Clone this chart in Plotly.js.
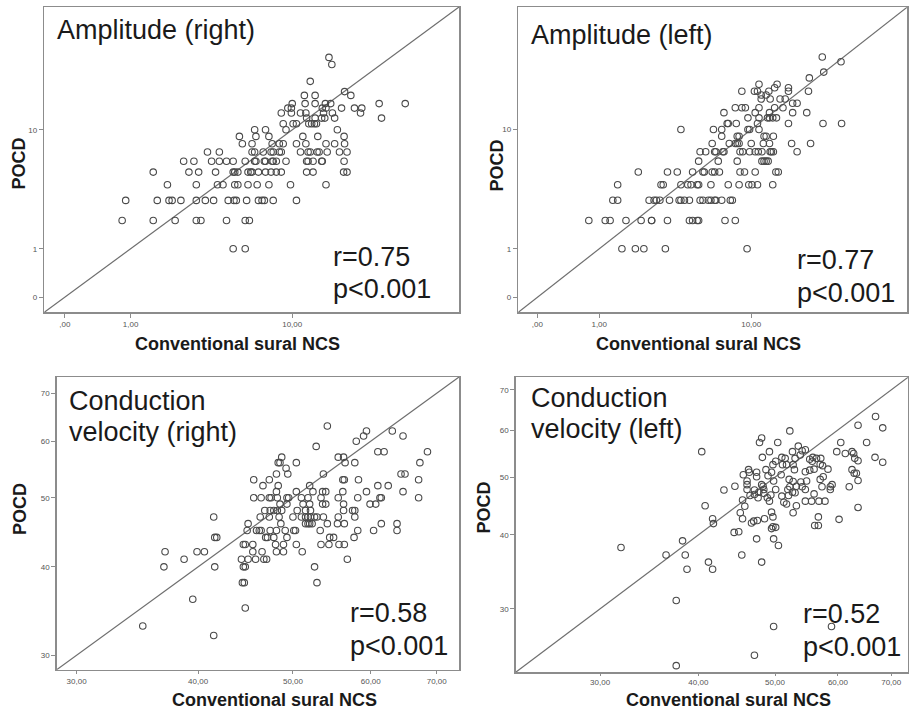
<!DOCTYPE html>
<html><head><meta charset="utf-8">
<script src="https://cdn.plot.ly/plotly-3.0.1.min.js"></script>
<style>html,body{margin:0;padding:0;background:#fff}#chart{width:909px;height:710px}</style>
</head><body><div id="chart"></div>
<script>
// ---- Amplitude (right) ----
const ampRightX = [15.2,15.7,12.3,18.1,11.5,13.0,19.4,10.0,11.6,13.0,14.6,15.5,26.5,35.2,9.5,9.9,14.1,14.7,17.5,20.2,21.9,8.8,9.9,11.0,11.7,14.3,15.8,21.6,11.8,13.0,14.0,14.5,16.2,27.2,9.0,10.1,10.5,12.1,12.5,12.9,13.2,6.4,7.3,9.3,16.7,5.3,6.5,7.6,11.3,13.4,18.0,5.5,6.2,7.9,8.6,9.0,10.5,11.7,14.7,16.2,18.1,3.5,4.1,6.2,6.4,7.1,7.8,8.0,8.6,8.8,11.0,12.0,12.3,13.3,13.6,14.9,17.1,18.6,2.5,2.9,3.7,4.1,4.5,4.9,5.7,6.4,6.5,7.2,7.3,7.9,8.0,8.3,9.3,11.8,12.0,12.7,14.0,14.1,18.0,1.54,2.7,3.1,3.9,4.9,5.0,5.2,5.9,6.1,6.2,6.7,7.3,7.8,8.3,8.8,11.8,12.7,17.9,18.6,1.95,3.0,4.0,4.3,5.0,5.2,5.9,6.6,7.6,9.8,14.7,0.9,1.65,2.0,2.1,2.4,3.0,3.4,3.8,4.6,4.95,5.1,5.8,6.7,7.0,7.2,8.0,10.5,0.83,1.54,2.2,3.0,3.2,4.5,5.7,6.0,4.9,5.7];
const ampRightY = [30,27,21,18,17,17,17,15,15,15,15,15,15,15,14,14,14,14,14,14,14,13,13,13,13,13,13,13,12,12,12,12,12,12,11,11,11,11,11,11,11,10,10,10,10,9,9,9,9,9,9,8,8,8,8,8,8,8,8,8,8,7,7,7,7,7,7,7,7,7,7,7,7,7,7,7,7,7,6,6,6,6,6,6,6,6,6,6,6,6,6,6,6,6,6,6,6,6,6,5,5,5,5,5,5,5,5,5,5,5,5,5,5,5,5,5,5,5,4,4,4,4,4,4,4,4,4,4,4,3,3,3,3,3,3,3,3,3,3,3,3,3,3,3,3,3,2,2,2,2,2,2,2,2,1,1];

// ---- Amplitude (left) ----
const ampLeftX = [23.4,29.1,23.8,20.1,11.0,13.7,13.3,15.7,8.9,10.4,10.8,12.4,15.7,19.9,11.3,12.0,11.3,12.6,14.2,15.1,16.5,17.4,8.2,8.9,9.3,11.0,13.3,14.7,7.1,10.5,12.5,16.5,19.5,9.6,11.0,12.2,12.5,13.0,13.6,7.4,7.5,8.3,10.8,15.7,23.6,29.3,4.0,6.2,6.9,9.6,9.8,11.0,6.9,8.4,8.6,11.7,12.0,13.1,6.1,7.6,8.2,8.4,8.6,10.0,11.6,12.5,16.3,20.4,5.2,5.6,6.3,6.4,7.0,7.1,8.7,9.0,9.8,10.5,10.9,11.4,12.6,12.8,13.1,17.4,5.1,6.6,8.4,11.4,11.7,12.0,12.3,2.1,3.3,3.8,4.7,5.4,5.5,6.1,6.3,6.7,8.7,9.2,10.5,13.5,13.9,1.46,3.0,3.1,4.0,4.4,4.6,5.0,5.1,6.0,7.5,8.6,9.7,10.1,10.8,13.0,1.33,1.46,2.5,2.7,2.8,2.95,3.4,3.9,4.0,4.2,4.5,5.2,5.4,5.8,6.0,6.3,6.4,6.9,7.7,7.9,0.78,1.14,1.26,1.7,2.2,2.6,2.6,3.3,4.5,4.7,5.0,5.1,7.2,8.2,1.58,2.0,2.3,3.2,9.5];
const ampLeftY = [30,28,24,22,20,20,19,19,18,18,18,18,18,18,17,17,16,16,16,16,15,15,14,14,14,14,14,14,13,13,13,13,13,12,12,12,12,12,12,11,11,11,11,11,11,11,10,10,10,10,10,10,9,9,9,9,9,9,8,8,8,8,8,8,8,8,8,8,7,7,7,7,7,7,7,7,7,7,7,7,7,7,7,7,6,6,6,6,6,6,6,5,5,5,5,5,5,5,5,5,5,5,5,5,5,4,4,4,4,4,4,4,4,4,4,4,4,4,4,4,3,3,3,3,3,3,3,3,3,3,3,3,3,3,3,3,3,3,3,3,2,2,2,2,2,2,2,2,2,2,2,2,2,2,1,1,1,1,1];

// ---- Conduction velocity (right) ----
const cvRightX = [54.2,59.4,63.1,59.0,64.7,58.0,52.8,61.0,61.9,68.5,48.7,55.6,56.3,48.3,48.5,50.4,56.5,57.8,67.3,49.2,48.1,49.4,53.7,64.4,65.0,45.6,47.3,56.2,56.4,58.3,67.1,46.6,48.3,52.0,61.0,62.5,48.1,50.4,52.4,53.6,54.0,56.2,59.4,64.7,45.6,46.4,47.3,47.5,48.2,49.3,49.5,51.0,51.8,53.4,55.6,58.2,61.3,61.5,67.1,48.5,49.3,51.2,52.0,53.6,54.0,56.3,59.9,60.7,46.8,47.4,47.8,48.2,48.7,50.5,51.5,52.1,56.3,57.5,57.8,41.5,46.3,47.3,48.4,50.0,51.0,51.5,51.8,52.1,52.6,52.9,53.7,55.6,57.8,45.0,48.6,51.5,51.8,52.0,52.3,54.2,55.5,56.4,61.5,63.8,44.9,45.9,46.2,46.4,47.4,48.1,49.1,50.1,50.3,53.3,58.2,60.4,63.8,41.6,41.8,46.9,47.1,47.8,49.3,54.5,55.0,57.7,44.5,44.7,45.5,48.0,48.9,50.4,53.4,54.4,55.7,56.4,37.0,39.9,40.6,45.5,46.5,48.1,48.9,51.1,38.7,44.3,45.0,45.8,46.7,47.0,56.8,36.9,41.6,44.5,44.7,52.6,44.4,44.6,52.9,39.5,44.7,35.1,41.5];
const cvRightY = [63,62,62,61,61,60,59,58,58,58,57,57,57,56,56,56,56,56,56,55,54,54,54,54,54,53,53,53,53,53,53,52,52,52,52,52,51,51,51,51,51,51,51,51,50,50,50,50,50,50,50,50,50,50,50,50,50,50,50,49,49,49,49,49,49,49,49,49,48,48,48,48,48,48,48,48,48,48,48,47,47,47,47,47,47,47,47,47,47,47,47,47,47,46,46,46,46,46,46,46,46,46,46,46,45,45,45,45,45,45,45,45,45,45,45,45,45,44,44,44,44,44,44,44,44,44,43,43,43,43,43,43,43,43,43,43,42,42,42,42,42,42,42,42,41,41,41,41,41,41,41,40,40,40,40,40,38,38,38,36,35,33,32];

// ---- Conduction velocity (left) ----
const cvLeftX = [66.9,63.6,68.3,52.2,48.1,47.8,50.4,60.5,65.2,40.4,49.2,53.5,52.6,54.1,54.6,53.8,59.8,61.3,62.5,62.8,66.8,68.3,63.6,63.0,51.0,48.2,50.1,51.5,53.0,51.7,52.7,51.1,55.3,55.8,56.4,57.1,55.7,57.4,57.0,58.3,56.0,55.3,54.6,52.9,49.7,48.7,46.3,46.4,47.4,45.6,47.4,49.0,49.5,49.8,50.9,62.5,62.9,63.3,63.6,62.0,63.6,60.2,56.7,56.1,56.7,56.0,57.3,58.7,59.0,58.7,57.0,57.5,54.8,53.9,53.2,54.1,54.6,54.6,55.6,56.8,57.8,52.7,52.2,52.6,52.1,51.9,53.0,52.0,53.2,52.7,51.0,51.3,51.7,50.1,49.4,49.2,48.9,48.4,48.1,48.3,47.7,47.6,48.4,47.1,47.1,46.5,46.1,46.1,46.1,45.5,45.8,45.2,45.5,45.0,45.4,47.0,47.5,48.5,46.7,49.5,49.7,49.7,49.5,50.1,49.8,50.5,47.4,48.1,44.4,43.1,44.5,40.8,41.7,41.8,38.2,36.4,38.5,38.7,41.2,41.7,31.9,37.5,49.8,58.9,47.1,37.5];
const cvLeftY = [63.2,61.1,60.5,59.8,58.2,57.2,57.2,57.2,57.2,55.2,55.2,56.4,55.2,55.4,55.6,54.5,55.2,54.8,55.2,54.8,54.0,53.0,53.3,53.8,54.0,54.0,53.2,53.8,53.8,52.5,52.5,52.5,53.6,54.0,53.8,53.8,53.2,52.3,52.6,51.6,51.6,51.4,51.1,51.5,52.5,51.5,51.5,51.0,51.0,50.5,50.1,50.3,51.0,49.3,50.5,51.5,50.8,50.8,49.4,48.2,44.5,42.5,41.5,41.5,42.9,46.9,48.2,48.2,48.6,47.7,49.6,50.1,49.3,49.1,48.3,48.2,47.7,45.6,45.6,45.6,45.6,49.2,48.2,47.2,49.6,47.7,47.1,46.6,44.8,43.6,46.5,45.4,45.1,47.7,46.7,45.6,46.2,47.7,48.6,48.3,47.2,46.2,47.0,46.8,47.6,46.6,49.3,48.6,47.7,45.8,44.7,43.6,42.6,40.5,37.0,42.2,42.3,42.6,41.9,43.7,42.9,41.3,41.0,41.2,39.4,38.4,39.4,36.0,40.4,47.6,48.3,44.8,42.6,41.8,39.1,37.0,37.0,35.0,36.0,35.0,38.1,31.0,28.0,28.0,25.0,24.0];

// tick labels
const ampXTickVals = [0, 1, 10];
const ampXTickText = [",00", "1,00", "10,00"];
const ampYTickVals = [0, 1, 10];
const ampYTickText = ["0", "1", "10"];
const cvXTickVals = [30, 40, 50, 60, 70];
const cvXTickText = ["30,00", "40,00", "50,00", "60,00", "70,00"];
const cvYTickVals = [30, 40, 50, 60, 70];
const cvYTickText = ["30", "40", "50", "60", "70"];

// all axes are log10(value + 1)
const shift = a => a.map(v => v + 1);

const W = 909, H = 710;
const panels = [
  {x: ampRightX, y: ampRightY, xd: [44.3, 459], yd: [7, 312.3], range: [-0.094, 1.805],
   xt: [ampXTickVals, ampXTickText], yt: [ampYTickVals, ampYTickText], tl: 4},
  {x: ampLeftX, y: ampLeftY, xd: [518.3, 907], yd: [7.3, 312.3], range: [-0.093, 1.800],
   xt: [ampXTickVals, ampXTickText], yt: [ampYTickVals, ampYTickText], tl: 4},
  {x: cvRightX, y: cvRightY, xd: [56.7, 459], yd: [377, 669.7], range: [1.4715, 1.8735],
   xt: [cvXTickVals, cvXTickText], yt: [cvYTickVals, cvYTickText], tl: 3},
  {x: cvLeftX, y: cvLeftY, xd: [515.7, 908], yd: [377.3, 672.3], range: [1.387, 1.872],
   xt: [cvXTickVals, cvXTickText], yt: [cvYTickVals, cvYTickText], tl: 2}
];

const data = [];
const layout = {
  width: W, height: H, margin: {l: 0, r: 0, t: 0, b: 0},
  paper_bgcolor: "#fff", plot_bgcolor: "#fff", showlegend: false,
  font: {family: "Liberation Sans, Arial, sans-serif", color: "#222"},
  annotations: []
};

panels.forEach((p, i) => {
  const n = i === 0 ? "" : String(i + 1);
  const xa = "x" + n, ya = "y" + n;
  const lo = Math.pow(10, p.range[0]), hi = Math.pow(10, p.range[1]);
  data.push({x: [lo, hi], y: [lo, hi], xaxis: xa, yaxis: ya, mode: "lines",
             line: {color: "#6e6e6e", width: 1.2}, hoverinfo: "skip"});
  data.push({x: shift(p.x), y: shift(p.y), xaxis: xa, yaxis: ya, mode: "markers",
             marker: {symbol: "circle-open", size: 6.5, color: "#4a4a4a", line: {width: 1.1, color: "#4a4a4a"}}});
  const common = {type: "log", showgrid: false, zeroline: false, showline: true, mirror: true,
    linecolor: "#8c8c8c", linewidth: 1.5, ticks: "outside", ticklen: 4, tickcolor: "#8c8c8c",
    tickwidth: 1, tickfont: {size: 8, color: "#555"}, tickmode: "array", fixedrange: true};
  layout["xaxis" + n] = Object.assign({}, common, {
    domain: [p.xd[0] / W, p.xd[1] / W], range: p.range, anchor: ya, ticklen: p.tl,
    tickvals: shift(p.xt[0]), ticktext: p.xt[1]});
  layout["yaxis" + n] = Object.assign({}, common, {
    domain: [1 - p.yd[1] / H, 1 - p.yd[0] / H], range: p.range, anchor: xa,
    tickvals: shift(p.yt[0]), ticktext: p.yt[1]});
});

function ann(text, xPx, yPx, size, opts) {
  layout.annotations.push(Object.assign({
    text: text, xref: "paper", yref: "paper", x: xPx / W, y: 1 - yPx / H,
    xanchor: "left", yanchor: "middle", showarrow: false, borderpad: 0,
    font: {size: size, color: "#1a1a1a", family: "Liberation Sans, Arial, sans-serif"}
  }, opts || {}));
}
const big = 27, ax = 18;
// panel titles
ann("Amplitude (right)", 56, 30, big);
ann("Amplitude (left)", 530, 35, big);
ann("Conduction", 68, 401, big);
ann("velocity (right)", 68, 432, big);
ann("Conduction", 530, 398, big);
ann("velocity (left)", 530, 429, big);
// stats
ann("r=0.75", 332, 257, big); ann("p<0.001", 332, 289, big);
ann("r=0.77", 796, 260, big); ann("p<0.001", 796, 293, big);
ann("r=0.58", 349, 613, big); ann("p<0.001", 349, 646, big);
ann("r=0.52", 802, 614, big); ann("p<0.001", 802, 647, big);
// axis titles
const bold = t => "<b>" + t + "</b>";
[[237, 344], [698, 344], [274, 700], [728, 700]].forEach(c =>
  ann(bold("Conventional sural NCS"), c[0], c[1], ax, {xanchor: "center"}));
[[18.5, 164], [496.5, 166], [20, 509], [483.5, 508]].forEach(c =>
  ann(bold("POCD"), c[0], c[1], ax, {xanchor: "center", textangle: -90}));

Plotly.newPlot("chart", data, layout, {staticPlot: true, displayModeBar: false});
</script>
</body></html>
